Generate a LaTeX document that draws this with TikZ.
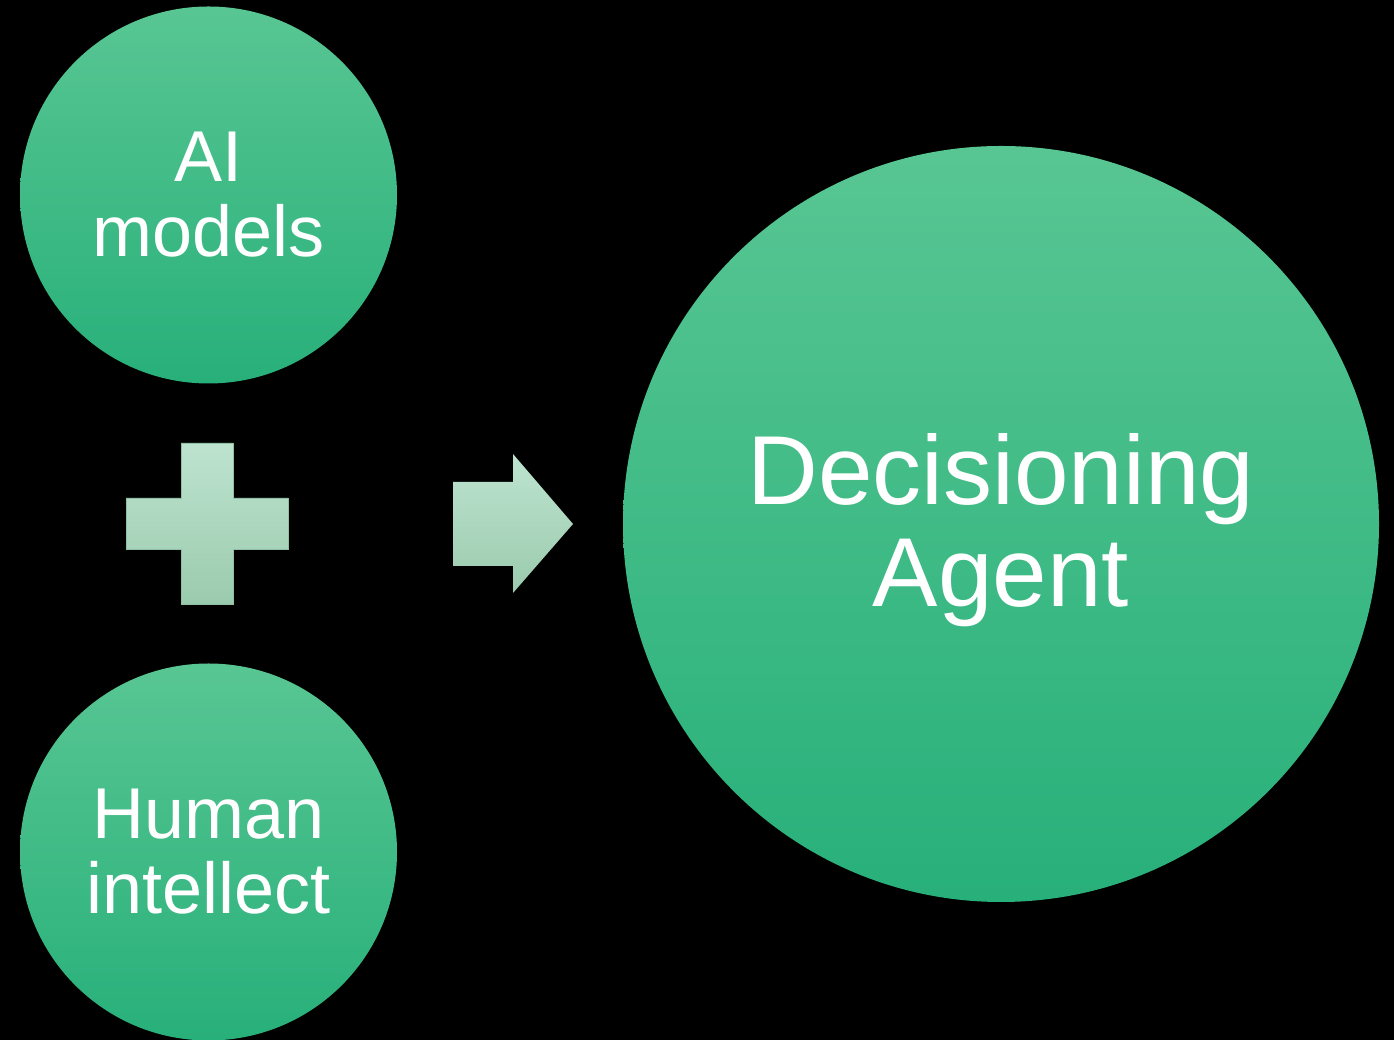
\documentclass[tikz,border=0pt]{standalone}
\usepackage{fontspec}
\setmainfont{Liberation Sans}
\definecolor{circtop}{HTML}{58C693}
\definecolor{circbot}{HTML}{28B07A}
\definecolor{symtop}{HTML}{BDE3CF}
\definecolor{symbot}{HTML}{9BCBAE}
\definecolor{symline}{HTML}{8FC0A5}
\tikzset{
  bubble/.style={circle, inner sep=0pt, text=white, align=center, top color=circtop, bottom color=circbot, draw=none},
  smallbubble/.style={bubble, minimum size=377pt, font=\fontsize{72}{75}\selectfont},
  bigbubble/.style={bubble, minimum size=756pt, font=\fontsize{98}{102}\selectfont, text height=185.5pt},
  symbolshape/.style={top color=symtop, bottom color=symbot, draw=symline, line width=0.8pt}
}
\begin{document}
\begin{tikzpicture}[x=1pt,y=1pt]
\useasboundingbox (0,0) rectangle (1394,1040);
\fill[black] (0,0) rectangle (1394,1040);
\node[smallbubble] (ai) at (208.5,845) {AI\\models};
\node[smallbubble] (human) at (208.5,188) {Human\\intellect};
\node[bigbubble] (agent) at (1001,516) {Decisioning\\Agent};
\shade[symbolshape] (181,597) -- (233,597) -- (233,542) -- (288,542) -- (288,491) -- (233,491) -- (233,436) -- (181,436) -- (181,491) -- (126,491) -- (126,542) -- (181,542) -- cycle;
\shade[symbolshape, draw=none] (453,558) -- (513,558) -- (513,586) -- (573,516) -- (513,447) -- (513,474) -- (453,474) -- cycle;
\end{tikzpicture}
\end{document}
